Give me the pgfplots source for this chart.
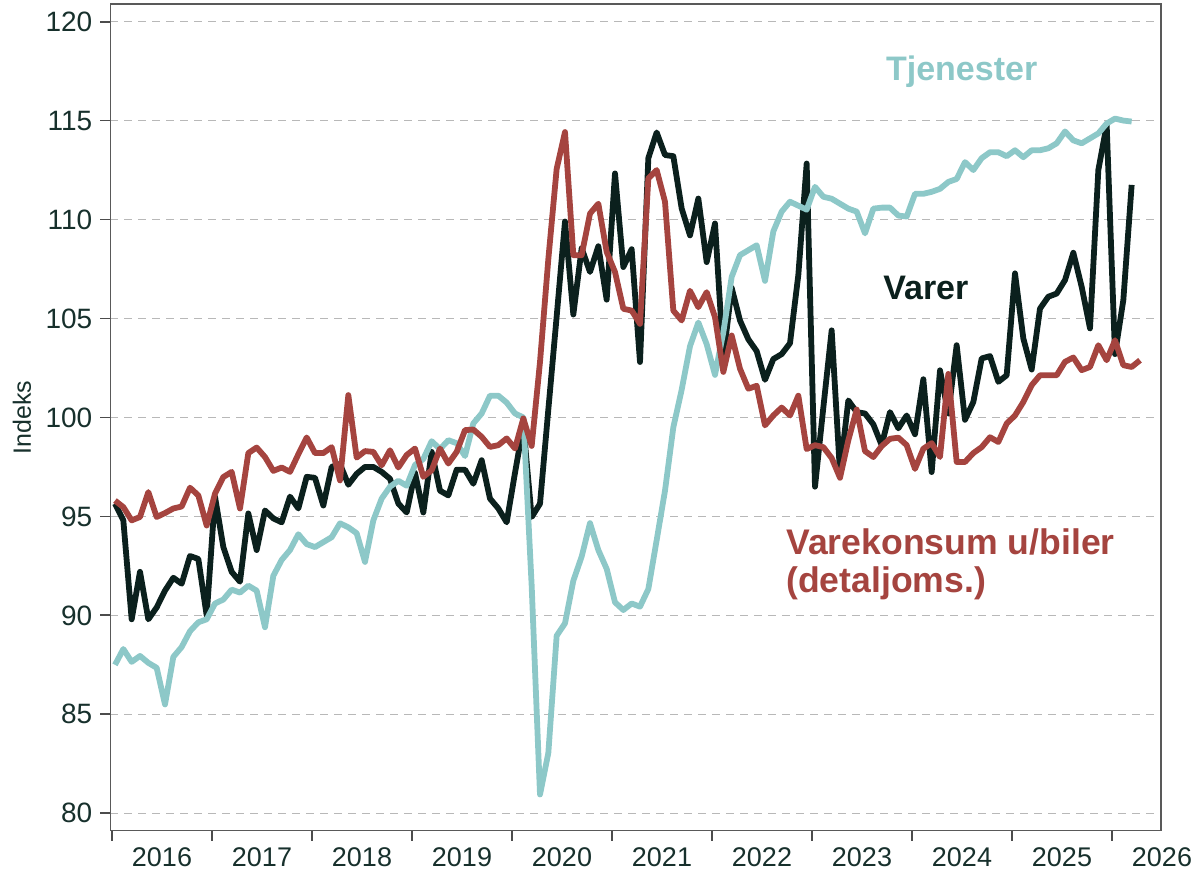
\documentclass[border=0pt]{standalone}
\usepackage{fontspec}
\setmainfont{Liberation Sans}
\usepackage{pgfplots}
\usepackage{pgfplotstable}
\pgfplotsset{compat=1.18}
\definecolor{tealc}{HTML}{8DC8C8}
\definecolor{redc}{HTML}{A5443F}
\definecolor{darkc}{HTML}{0B201D}
\definecolor{txtc}{HTML}{17302C}

% month index m = 0 is January 2016
\pgfplotstableread{
m v
0 87.5
1 88.3
2 87.65
3 87.95
4 87.6
5 87.35
6 85.5
7 87.9
8 88.4
9 89.2
10 89.65
11 89.8
12 90.6
13 90.8
14 91.3
15 91.15
16 91.5
17 91.25
18 89.4
19 92.0
20 92.8
21 93.3
22 94.1
23 93.6
24 93.45
25 93.7
26 93.95
27 94.65
28 94.45
29 94.15
30 92.7
31 94.8
32 95.9
33 96.5
34 96.8
35 96.55
36 97.6
37 97.9
38 98.8
39 98.4
40 98.85
41 98.7
42 98.05
43 99.7
44 100.2
45 101.1
46 101.1
47 100.75
48 100.2
49 100.0
50 91.5
51 80.95
52 83.05
53 88.97
54 89.6
55 91.75
56 92.97
57 94.66
58 93.3
59 92.35
60 90.66
61 90.27
62 90.6
63 90.44
64 91.33
65 93.8
66 96.3
67 99.5
68 101.4
69 103.6
70 104.8
71 103.7
72 102.15
73 104.3
74 107.1
75 108.2
76 108.45
77 108.7
78 106.9
79 109.4
80 110.4
81 110.9
82 110.7
83 110.5
84 111.65
85 111.15
86 111.05
87 110.8
88 110.55
89 110.4
90 109.3
91 110.55
92 110.6
93 110.6
94 110.2
95 110.15
96 111.3
97 111.3
98 111.4
99 111.55
100 111.9
101 112.05
102 112.9
103 112.5
104 113.1
105 113.4
106 113.4
107 113.2
108 113.5
109 113.15
110 113.5
111 113.5
112 113.6
113 113.85
114 114.45
115 114.0
116 113.85
117 114.1
118 114.35
119 114.85
120 115.1
121 115.0
122 114.95
}\tjenester

\pgfplotstableread{
m v
0 95.64
1 94.8
2 89.8
3 92.2
4 89.8
5 90.4
6 91.25
7 91.9
8 91.6
9 93.0
10 92.85
11 90.0
12 96.0
13 93.45
14 92.2
15 91.7
16 95.15
17 93.3
18 95.3
19 94.9
20 94.7
21 96.0
22 95.4
23 97.0
24 96.95
25 95.55
26 97.5
27 97.65
28 96.6
29 97.15
30 97.5
31 97.5
32 97.25
33 96.9
34 95.65
35 95.2
36 97.2
37 95.2
38 98.26
39 96.3
40 96.06
41 97.36
42 97.36
43 96.65
44 97.84
45 95.9
46 95.4
47 94.7
48 97.2
49 99.6
50 94.97
51 95.64
52 100.4
53 105.1
54 109.9
55 105.2
56 108.55
57 107.35
58 108.65
59 105.95
60 112.33
61 107.6
62 108.5
63 102.8
64 113.1
65 114.4
66 113.26
67 113.2
68 110.56
69 109.2
70 111.06
71 107.85
72 109.8
73 103.0
74 106.55
75 104.9
76 103.95
77 103.35
78 101.9
79 102.95
80 103.2
81 103.75
82 107.2
83 112.83
84 96.5
85 100.5
86 104.4
87 97.2
88 100.86
89 100.27
90 100.2
91 99.65
92 98.6
93 100.27
94 99.45
95 100.1
96 99.15
97 101.93
98 97.24
99 102.38
100 100.2
101 103.65
102 99.88
103 100.78
104 102.98
105 103.1
106 101.8
107 102.13
108 107.28
109 103.99
110 102.42
111 105.5
112 106.1
113 106.26
114 106.94
115 108.32
116 106.6
117 104.5
118 112.5
119 114.78
120 103.2
121 105.93
122 111.75
}\varer

\pgfplotstableread{
m v
0 95.8
1 95.47
2 94.8
3 94.97
4 96.23
5 94.97
6 95.17
7 95.4
8 95.5
9 96.45
10 96.06
11 94.54
12 96.15
13 96.99
14 97.25
15 95.4
16 98.2
17 98.48
18 98.0
19 97.3
20 97.47
21 97.25
22 98.14
23 98.99
24 98.2
25 98.2
26 98.5
27 96.82
28 101.13
29 97.97
30 98.3
31 98.26
32 97.58
33 98.34
34 97.47
35 98.1
36 98.43
37 97.0
38 97.33
39 98.43
40 97.67
41 98.26
42 99.36
43 99.39
44 99.02
45 98.51
46 98.6
47 98.94
48 98.43
49 99.95
50 98.56
51 102.8
52 108.0
53 112.56
54 114.42
55 108.2
56 108.2
57 110.3
58 110.8
59 108.36
60 107.35
61 105.49
62 105.4
63 104.73
64 112.08
65 112.5
66 110.9
67 105.4
68 104.9
69 106.4
70 105.57
71 106.33
72 105.07
73 102.3
74 104.14
75 102.46
76 101.45
77 101.6
78 99.6
79 100.1
80 100.5
81 100.1
82 101.1
83 98.4
84 98.6
85 98.5
86 97.95
87 96.95
88 98.85
89 100.4
90 98.3
91 98.0
92 98.55
93 98.92
94 98.98
95 98.6
96 97.4
97 98.42
98 98.7
99 98.0
100 102.2
101 97.75
102 97.75
103 98.2
104 98.5
105 99.0
106 98.76
107 99.69
108 100.1
109 100.78
110 101.63
111 102.13
112 102.13
113 102.13
114 102.81
115 103.03
116 102.39
117 102.55
118 103.65
119 102.89
120 103.9
121 102.64
122 102.55
123 102.89
}\varekonsum

\begin{document}
\begin{tikzpicture}
\path[use as bounding box] (-55.15pt,-22.15pt) rectangle (542.85pt,415.35pt);
\begin{axis}[
  at={(0,0)}, anchor=south west, scale only axis,
  width=525.35pt, height=413.35pt,
  xmin=-0.564, xmax=125.52, ymin=79.12, ymax=120.89,
  axis line style={draw=black!65, line width=0.7pt},
  xtick={-0.36,11.64,23.64,35.64,47.64,59.64,71.64,83.64,95.64,107.64,119.64},
  xticklabels={2016,2017,2018,2019,2020,2021,2022,2023,2024,2025,2026},
  xticklabel style={xshift=25pt, font=\fontsize{13.5}{15}\selectfont, text=txtc},
  ytick={80,85,90,95,100,105,110,115,120},
  yticklabel style={font=\fontsize{14}{16}\selectfont, text=txtc, xshift=-0.5pt},
  /pgf/number format/assume math mode=true,
  tick align=outside, xtick pos=bottom, ytick pos=left,
  major tick length=5pt,
  tick style={draw=black!70, line width=0.9pt},
  ymajorgrids,
  grid style={draw=black!28, line width=0.7pt, dash pattern=on 4pt off 3pt},
  ylabel={Indeks},
  ylabel style={at={(axis description cs:-0.084,0.5)}, anchor=center, font=\fontsize{12.5}{15}\selectfont, text=txtc},
  every axis plot/.append style={line width=2.9pt, line join=round, mark=none},
]
\addplot[darkc] table[x=m, y=v] {\varer};
\addplot[tealc] table[x=m, y=v] {\tjenester};
\addplot[redc] table[x=m, y=v] {\varekonsum};

\node[text=tealc, font=\bfseries\fontsize{17}{20}\selectfont] at (axis cs:101.6,117.46) {Tjenester};
\node[text=darkc, font=\bfseries\fontsize{17}{20}\selectfont] at (axis cs:97.3,106.54) {Varer};
\node[text=redc, font=\bfseries\fontsize{17.8}{21}\selectfont, anchor=west] at (axis cs:79.7,93.7) {Varekonsum u/biler};
\node[text=redc, font=\bfseries\fontsize{17.8}{21}\selectfont, anchor=west] at (axis cs:79.7,91.6) {(detaljoms.)};
\end{axis}
\end{tikzpicture}
\end{document}
